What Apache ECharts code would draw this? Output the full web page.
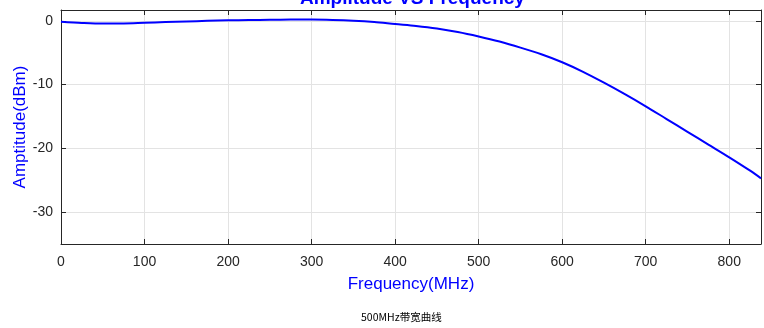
<!DOCTYPE html>
<html>
<head>
<meta charset="utf-8">
<script src="https://cdnjs.cloudflare.com/ajax/libs/echarts/6.0.0/echarts.min.js"></script>
<style>
  html, body { margin: 0; padding: 0; background: #fff; }
  #chart { width: 764px; height: 328px; }
</style>
</head>
<body>
<div id="chart"></div>
<script>
// frequency (MHz) and amplitude (dBm)
var freq = [0, 25, 50, 75, 100, 125, 150, 175, 200, 225, 250, 275, 300, 325, 350, 375, 400,
            425, 450, 475, 500, 525, 550, 575, 600, 625, 650, 675, 700, 725, 750, 775, 800, 825, 838];
var amp = [-0.15, -0.32, -0.42, -0.4, -0.3, -0.2, -0.1, 0.0, 0.08, 0.13, 0.17, 0.2, 0.2, 0.15, 0.03, -0.18, -0.5,
           -0.8, -1.2, -1.75, -2.45, -3.25, -4.2, -5.25, -6.5, -8.0, -9.7, -11.5, -13.4, -15.4, -17.4, -19.4, -21.4, -23.5, -24.7];

var xMin = 0, xMax = 838, xStep = 100;
var yMin = -35, yMax = 1.7;

var titleText = 'Amplitude VS Frequency';
var xName = 'Frequency(MHz)';
var yName = 'Amptitude(dBm)';
var caption = '500MHz带宽曲线';

var points = [];
for (var i = 0; i < freq.length; i++) points.push([freq[i], amp[i]]);

var axisColor = '#262626';
var gridColor = '#e3e3e3';
var font = 'Liberation Sans, Arial, sans-serif';

function frame(pos, isX) {
  var ax = {
    type: 'value', position: pos,
    min: isX ? xMin : yMin, max: isX ? xMax : yMax,
    axisLine: { show: true, onZero: false, lineStyle: { color: axisColor, width: 1 } },
    axisTick: { show: true, inside: true, length: 5, lineStyle: { color: axisColor } },
    splitLine: { show: false },
    axisLabel: { show: false }
  };
  if (isX) ax.interval = xStep;
  return ax;
}

var chart = echarts.init(document.getElementById('chart'));

var xMain = frame('bottom', true);
xMain.name = xName;
xMain.nameLocation = 'middle';
xMain.nameGap = 32;
xMain.nameMoveOverlap = false;
xMain.nameTextStyle = { color: '#0000ff', fontSize: 17, fontFamily: font };
xMain.splitLine = { show: true, lineStyle: { color: gridColor, width: 1 } };
xMain.axisLabel = {
  color: axisColor, fontSize: 14, fontFamily: font, margin: 11,
  formatter: function (v) { return v % xStep === 0 ? String(v) : ''; }
};

var yMain = frame('left', false);
yMain.name = yName;
yMain.nameLocation = 'middle';
yMain.nameGap = 32;
yMain.nameMoveOverlap = false;
yMain.nameTextStyle = { color: '#0000ff', fontSize: 17, fontFamily: font };
yMain.splitLine = { show: true, lineStyle: { color: gridColor, width: 1 } };
yMain.axisLabel = {
  color: axisColor, fontSize: 14, fontFamily: font, margin: 8,
  formatter: function (v) { return Math.abs(v % 10) < 1e-9 ? String(v) : ''; }
};

var option = {
  backgroundColor: '#fff',
  animation: false,
  grid: { left: 61, right: 3, top: 10, bottom: 84, containLabel: false, outerBoundsMode: 'none' },
  graphic: [
    {
      type: 'text', left: 411 - 111, top: -11,
      style: { text: titleText, fill: '#0000ff', font: 'bold 19px ' + font }
    },
    {
      type: 'text', left: 361, top: 312,
      style: { text: caption, fill: '#000', font: '10.5px "Noto Sans CJK SC", sans-serif' }
    }
  ],
  xAxis: [xMain, frame('top', true)],
  yAxis: [yMain, frame('right', false)],
  series: [
    {
      type: 'line', data: points, xAxisIndex: 0, yAxisIndex: 0,
      smooth: 0.3, showSymbol: false, symbol: 'none',
      lineStyle: { color: '#0000ff', width: 2 }
    }
  ]
};
chart.setOption(option);
</script>
</body>
</html>
